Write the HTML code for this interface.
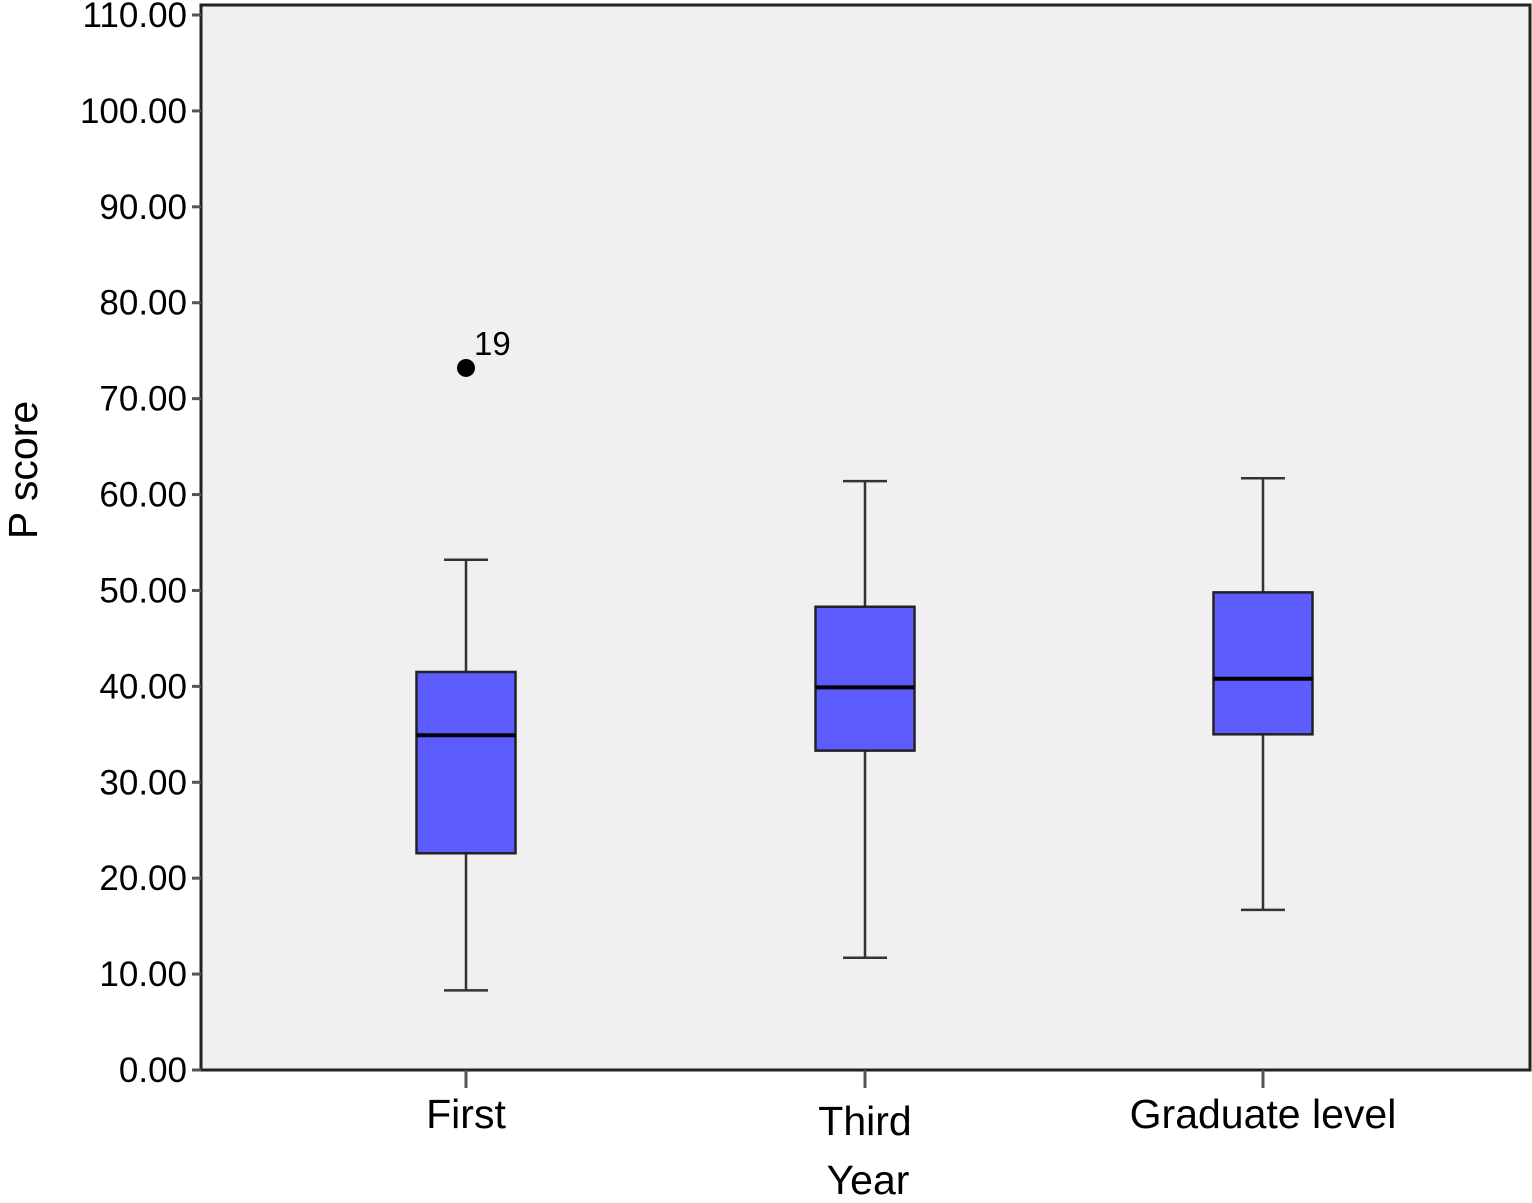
<!DOCTYPE html>
<html><head><meta charset="utf-8"><style>
html,body{margin:0;padding:0;background:#fff;}
svg{display:block;font-family:"Liberation Sans",Arial,sans-serif;}
</style></head><body>
<svg id="chart" width="1532" height="1203" viewBox="0 0 1532 1203" xmlns="http://www.w3.org/2000/svg"></svg>
<script>
const categories = ["First","Third","Graduate level"];
const mins = [8.3, 11.7, 16.7];
const q1s = [22.6, 33.3, 35.0];
const medians = [34.9, 39.9, 40.8];
const q3s = [41.5, 48.3, 49.8];
const maxs = [53.2, 61.4, 61.7];
const outlierValues = [73.2];
const outlierCats = [0];
const outlierLabels = ["19"];
const yTicks = [0,10,20,30,40,50,60,70,80,90,100,110];

const svg = document.getElementById('chart');
const NS = "http://www.w3.org/2000/svg";
const L = 201, R = 1530, T = 5, B = 1070;
const y = v => B - v * (1055/110);
const catX = [466, 865, 1263];
const x = i => catX[i];
const bw = 99, cap = 22;
function mk(tag, attrs, parent){const e=document.createElementNS(NS,tag);for(const k in attrs)e.setAttribute(k,attrs[k]);(parent||svg).appendChild(e);return e;}

const bg = mk('rect',{x:L,y:T,width:R-L,height:B-T,fill:'#f0f0f0',stroke:'#222','stroke-width':3});



yTicks.forEach(t=>{
  const ln = mk('line',{x1:L-9,x2:L,y1:y(t),y2:y(t),stroke:'#555','stroke-width':3});
  
  
  const tx = mk('text',{x:L-14,y:y(t)+12,'text-anchor':'end','font-size':35,fill:'#000'});
  tx.textContent = t.toFixed(2);
  
  
});

categories.forEach((c,i)=>{
  const cx = x(i);
  const tk = mk('line',{x1:cx,x2:cx,y1:B,y2:B+18,stroke:'#555','stroke-width':3});
  
  
  const lb = mk('text',{x:cx,y:i===1?1135:1128,'text-anchor':'middle','font-size':41,fill:'#000'});
  lb.textContent = c;
  
  

  const g = mk('g',{});
  
  
  mk('line',{x1:cx,x2:cx,y1:y(maxs[i]),y2:y(q3s[i]),stroke:'#333','stroke-width':2.5},g);
  mk('line',{x1:cx,x2:cx,y1:y(q1s[i]),y2:y(mins[i]),stroke:'#333','stroke-width':2.5},g);
  mk('line',{x1:cx-cap,x2:cx+cap,y1:y(maxs[i]),y2:y(maxs[i]),stroke:'#333','stroke-width':2.5},g);
  mk('line',{x1:cx-cap,x2:cx+cap,y1:y(mins[i]),y2:y(mins[i]),stroke:'#333','stroke-width':2.5},g);
  mk('rect',{x:cx-bw/2,y:y(q3s[i]),width:bw,height:y(q1s[i])-y(q3s[i]),fill:'#5c5cff',stroke:'#222','stroke-width':2.5},g);
  mk('line',{x1:cx-bw/2,x2:cx+bw/2,y1:y(medians[i]),y2:y(medians[i]),stroke:'#000','stroke-width':4},g);
});

outlierValues.forEach((v,k)=>{
  const cx = x(outlierCats[k]);
  const c = mk('circle',{cx:cx,cy:y(v),r:9,fill:'#000'});
  
  
  const t = mk('text',{x:cx+8,y:y(v)-13,'font-size':33,fill:'#000'});
  t.textContent = outlierLabels[k];
  
  
});

const xt = mk('text',{x:868,y:1194,'text-anchor':'middle','font-size':41,fill:'#000'});
xt.textContent='Year';


const yt = mk('text',{x:0,y:0,'text-anchor':'middle','font-size':41,fill:'#000',transform:'translate(37,470) rotate(-90)'});
yt.textContent='P score';


</script>
</body></html>
